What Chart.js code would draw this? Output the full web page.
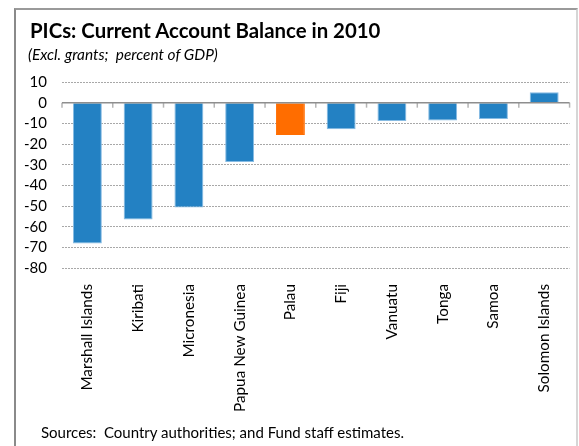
<!DOCTYPE html>
<html>
<head>
<meta charset="utf-8">
<script src="https://cdn.jsdelivr.net/npm/chart.js@4/dist/chart.umd.min.js"></script>
<style>
  html, body { margin: 0; padding: 0; background: #fff; }
  #page { position: relative; width: 579px; height: 446px; overflow: hidden; font-family: Lato, "Open Sans", sans-serif; }
  #frame { position: absolute; left: 14px; top: 8px; width: 560px; height: 460px;
           border-left: 2px solid #8a8a8a; border-top: 2px solid #9a9a9a; border-right: 2px solid #d6d6d6; }
  #title { position: absolute; left: 30px; top: 18px; font-size: 20.4px; font-weight: bold; color: #000; white-space: nowrap; }
  #subtitle { position: absolute; left: 28px; top: 45px; font-size: 15.4px; font-style: italic; color: #000; white-space: nowrap; }
  #source { position: absolute; left: 41px; top: 423px; font-size: 15px; color: #000; white-space: nowrap; }
  #wrap { position: absolute; left: 0; top: 0; width: 579px; height: 446px; }
</style>
</head>
<body>
<div id="page">
  <div id="frame"></div>
  <div id="wrap"><canvas id="chart"></canvas></div>
  <div id="title">PICs: Current Account Balance in 2010</div>
  <div id="subtitle">(Excl. grants;&nbsp; percent of GDP)</div>
  <div id="source">Sources:&nbsp; Country authorities; and Fund staff estimates.</div>
</div>
<script>
// Current account balance, 2010, percent of GDP
const categories = ['Marshall Islands', 'Kiribati', 'Micronesia', 'Papua New Guinea', 'Palau',
                    'Fiji', 'Vanuatu', 'Tonga', 'Samoa', 'Solomon Islands'];
const balance = [-68.1, -56.5, -50.7, -28.7, -15.7, -12.9, -8.9, -8.6, -7.9, 5.0];
const highlighted = 'Palau';
const yTickValues = [10, 0, -10, -20, -30, -40, -50, -60, -70, -80];
const yTickLabels = ['10', '0', '-10', '-20', '-30', '-40', '-50', '-60', '-70', '-80'];

const BLUE = '#2381c3';
const ORANGE = '#ff6d00';

// zero line with small tick marks at category boundaries
const zeroAxis = {
  id: 'zeroAxis',
  afterDatasetsDraw(chart) {
    const { ctx, chartArea, scales } = chart;
    const y0 = scales.y.getPixelForValue(0);
    const xs = scales.x;
    const half = xs.width / categories.length / 2;
    ctx.save();
    ctx.strokeStyle = '#b4b4b4';
    ctx.lineWidth = 1.5;
    for (let i = 0; i <= categories.length; i++) {
      const px = i < categories.length ? xs.getPixelForValue(i) - half : xs.getPixelForValue(i - 1) + half;
      ctx.beginPath();
      ctx.moveTo(px, y0);
      ctx.lineTo(px, y0 + 5);
      ctx.stroke();
    }
    ctx.strokeStyle = '#8e8e8e';
    ctx.lineWidth = 1.5;
    ctx.beginPath();
    ctx.moveTo(chartArea.left, y0);
    ctx.lineTo(chartArea.right, y0);
    ctx.stroke();
    ctx.restore();
  }
};

new Chart(document.getElementById('chart'), {
  type: 'bar',
  data: {
    labels: categories,
    datasets: [{
      data: balance,
      backgroundColor: categories.map(c => c === highlighted ? ORANGE : BLUE),
      borderColor: categories.map(c => c === highlighted ? ORANGE : '#86bbe3'),
      borderWidth: 1,
      borderSkipped: 'start',
      categoryPercentage: 1.0,
      barPercentage: 0.57
    }]
  },
  options: {
    responsive: true,
    maintainAspectRatio: false,
    animation: false,
    layout: { padding: { left: 18, right: 9, top: 82, bottom: 0 } },
    plugins: { legend: { display: false }, tooltip: { enabled: false } },
    scales: {
      x: {
        grid: { display: false, drawTicks: false },
        border: { display: false },
        ticks: {
          autoSkip: false, minRotation: 90, maxRotation: 90, padding: 16,
          color: '#000', font: { family: 'Lato', size: 15.3 }
        },
        afterFit(scale) { scale.height = 178; }
      },
      y: {
        min: Math.min(...yTickValues), max: Math.max(...yTickValues),
        grid: {
          drawTicks: false,
          color: ctx => (ctx.tick && ctx.tick.value === 0) ? 'rgba(0,0,0,0)' : '#a8a8a8',
          lineWidth: 1
        },
        border: { display: false, dash: [2, 1] },
        ticks: {
          stepSize: 10, autoSkip: false, padding: 15,
          color: '#000', font: { family: 'Lato', size: 15 },
          callback: v => yTickLabels[yTickValues.indexOf(v)]
        },
        afterFit(scale) { scale.width = 44; }
      }
    }
  },
  plugins: [zeroAxis]
});
</script>
</body>
</html>
